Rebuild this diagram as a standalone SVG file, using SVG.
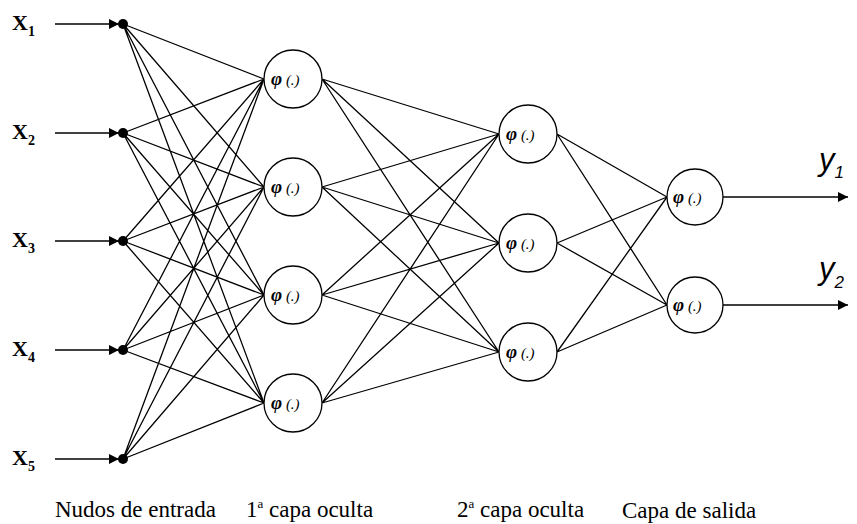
<svg xmlns="http://www.w3.org/2000/svg" width="857" height="524" viewBox="0 0 857 524">
<defs>
<marker id="ah" viewBox="0 0 10 10" refX="10" refY="5" markerWidth="15" markerHeight="10" markerUnits="userSpaceOnUse" orient="auto"><path d="M0,0 L10,5 L0,10 z" fill="#000"/></marker>
</defs>
<style>
.c{stroke:#000;stroke-width:1.3;fill:none}
.a{stroke:#000;stroke-width:1.5;fill:none}
.n{fill:#fff;stroke:#000;stroke-width:1.3}
.xs{font-size:14px}
.pf{font-weight:bold;font-style:italic;font-size:19px}
.ys{font-size:17px}
</style>
<g id="connectors">
<line class="a" x1="55" y1="24" x2="119" y2="24" marker-end="url(#ah)"/>
<line class="a" x1="55" y1="133" x2="119" y2="133" marker-end="url(#ah)"/>
<line class="a" x1="55" y1="241" x2="119" y2="241" marker-end="url(#ah)"/>
<line class="a" x1="55" y1="350" x2="119" y2="350" marker-end="url(#ah)"/>
<line class="a" x1="55" y1="459" x2="119" y2="459" marker-end="url(#ah)"/>
<path class="c" d="M123,24L264,79M123,24L264,187M123,24L264,295M123,24L264,403
M123,133L264,79M123,133L264,187M123,133L264,295M123,133L264,403
M123,241L264,79M123,241L264,187M123,241L264,295M123,241L264,403
M123,350L264,79M123,350L264,187M123,350L264,295M123,350L264,403
M123,459L264,79M123,459L264,187M123,459L264,295M123,459L264,403"/>
<path class="c" d="M322,79L499,134M322,79L499,243M322,79L499,352
M322,187L499,134M322,187L499,243M322,187L499,352
M322,295L499,134M322,295L499,243M322,295L499,352
M322,403L499,134M322,403L499,243M322,403L499,352"/>
<path class="c" d="M557,134L667,197M557,134L667,305
M557,243L667,197M557,243L667,305
M557,352L667,197M557,352L667,305"/>
<line class="a" x1="723" y1="197" x2="848" y2="197" marker-end="url(#ah)"/>
<line class="a" x1="723" y1="305" x2="848" y2="305" marker-end="url(#ah)"/>
</g>
<g font-family="'Liberation Serif', 'Times New Roman', serif" font-weight="bold" font-size="22" fill="#000">
<g id="in1"><circle cx="123" cy="24" r="5"/><text x="12" y="30">X<tspan class="xs" dy="6">1</tspan></text></g>
<g id="in2"><circle cx="123" cy="133" r="5"/><text x="12" y="139">X<tspan class="xs" dy="6">2</tspan></text></g>
<g id="in3"><circle cx="123" cy="241" r="5"/><text x="12" y="247">X<tspan class="xs" dy="6">3</tspan></text></g>
<g id="in4"><circle cx="123" cy="350" r="5"/><text x="12" y="356">X<tspan class="xs" dy="6">4</tspan></text></g>
<g id="in5"><circle cx="123" cy="459" r="5"/><text x="12" y="465">X<tspan class="xs" dy="6">5</tspan></text></g>
</g>
<g font-family="'Liberation Serif', 'Times New Roman', serif" font-style="italic" font-size="15" fill="#000">
<g id="h1_1"><circle class="n" cx="293" cy="79" r="29"/><text x="271" y="85"><tspan class="pf">φ</tspan> (.)</text></g>
<g id="h1_2"><circle class="n" cx="293" cy="187" r="29"/><text x="271" y="193"><tspan class="pf">φ</tspan> (.)</text></g>
<g id="h1_3"><circle class="n" cx="293" cy="295" r="29"/><text x="271" y="301"><tspan class="pf">φ</tspan> (.)</text></g>
<g id="h1_4"><circle class="n" cx="293" cy="403" r="29"/><text x="271" y="409"><tspan class="pf">φ</tspan> (.)</text></g>
<g id="h2_1"><circle class="n" cx="528" cy="134" r="29"/><text x="506" y="140"><tspan class="pf">φ</tspan> (.)</text></g>
<g id="h2_2"><circle class="n" cx="528" cy="243" r="29"/><text x="506" y="249"><tspan class="pf">φ</tspan> (.)</text></g>
<g id="h2_3"><circle class="n" cx="528" cy="352" r="29"/><text x="506" y="358"><tspan class="pf">φ</tspan> (.)</text></g>
<g id="o1"><circle class="n" cx="695" cy="197" r="28"/><text x="673" y="203"><tspan class="pf">φ</tspan> (.)</text></g>
<g id="o2"><circle class="n" cx="695" cy="305" r="28"/><text x="673" y="311"><tspan class="pf">φ</tspan> (.)</text></g>
</g>
<g id="outlabels" font-family="'Liberation Sans', Arial, sans-serif" font-style="italic" font-size="31" fill="#000">
<text x="819" y="170">y<tspan class="ys" dy="8">1</tspan></text>
<text x="819" y="279">y<tspan class="ys" dy="9">2</tspan></text>
</g>
<g id="layerlabels" font-family="'Liberation Serif', 'Times New Roman', serif" font-size="23" fill="#000">
<text x="55" y="517">Nudos de entrada</text>
<text x="246" y="517">1<tspan font-size="13" dy="-9">a</tspan><tspan dy="9"> capa oculta</tspan></text>
<text x="457" y="517">2<tspan font-size="13" dy="-9">a</tspan><tspan dy="9"> capa oculta</tspan></text>
<text x="622" y="518">Capa de salida</text>
</g>
</svg>
